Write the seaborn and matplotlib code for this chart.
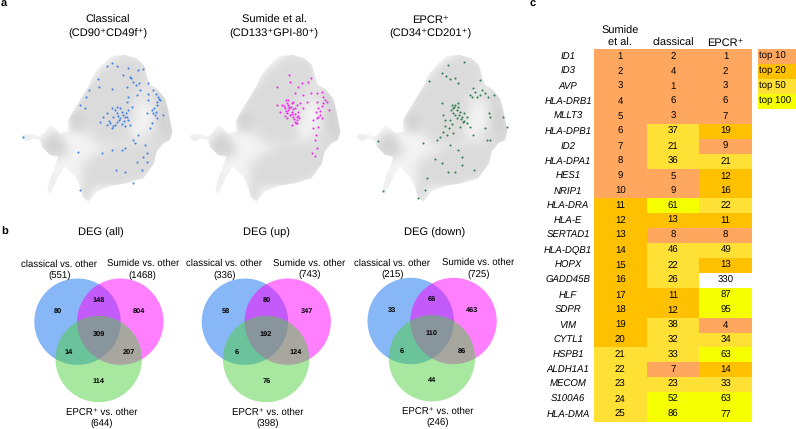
import numpy as np
import pandas as pd
import matplotlib
matplotlib.use('Agg')
import matplotlib.pyplot as plt
from matplotlib.colors import ListedColormap, LinearSegmentedColormap
from matplotlib.patches import Circle, Polygon
import seaborn as sns

# gene ranking table
genes = ['ID1', 'ID3', 'AVP', 'HLA-DRB1', 'MLLT3', 'HLA-DPB1', 'ID2', 'HLA-DPA1', 'HES1', 'NRIP1',
         'HLA-DRA', 'HLA-E', 'SERTAD1', 'HLA-DQB1', 'HOPX', 'GADD45B', 'HLF', 'SDPR', 'VIM', 'CYTL1',
         'HSPB1', 'ALDH1A1', 'MECOM', 'S100A6', 'HLA-DMA']
rank_sumide = [1, 2, 3, 4, 5, 6, 7, 8, 9, 10, 11, 12, 13, 14, 15, 16, 17, 18, 19, 20, 21, 22, 23, 24, 25]
rank_classical = [2, 4, 1, 6, 3, 37, 21, 36, 5, 9, 61, 13, 8, 46, 22, 26, 11, 12, 38, 32, 33, 7, 23, 52, 86]
rank_epcr = [1, 2, 3, 6, 7, 19, 9, 21, 12, 16, 22, 11, 8, 49, 13, 330, 87, 95, 4, 34, 63, 14, 33, 63, 77]
table_cols = ['Sumide\net al.', 'classical', 'EPCR\u207a']
top_labels = ['top 10', 'top 20', 'top 50', 'top 100']
top_limits = [11, 21, 51, 101]
top_colors = ['#FFA75F', '#FFC000', '#FFE135', '#F5FF00', '#FFFFFF']

# venn counts: blue, blue+pink, pink, all, blue+green, pink+green, green
venn_titles = ['DEG (all)', 'DEG (up)', 'DEG (down)']
venn_all = [80, 148, 804, 309, 14, 207, 114]
venn_up = [58, 80, 347, 192, 6, 124, 76]
venn_down = [33, 66, 463, 110, 6, 86, 44]
totals_classical = [551, 336, 215]
totals_sumide = [1468, 743, 725]
totals_epcr = [644, 398, 246]

# umap panels
umap_titles = [('Classical', '(CD90\u207aCD49f\u207a)'),
               ('Sumide et al.', '(CD133\u207aGPI-80\u207a)'),
               ('EPCR\u207a', '(CD34\u207aCD201\u207a)')]

# grey cloud, density by eye per cell of the umap (cols 50..530, rows 160..620)
cloud = ['000000000000001333100000',
         '000000000000024444420000',
         '000000000000344444430000',
         '000000000002444444431000',
         '000000000014444444432100',
         '000000000144444444333420',
         '000000000344444443334530',
         '000000001444444443223541',
         '000000013444444443113552',
         '000000035544444442113553',
         '000000025544444442113554',
         '000012114434444431123554',
         '231135311123444442234454',
         '011255521112333333334442',
         '000255531111234444444310',
         '000034321123444444444310',
         '000001111234444444444200',
         '000001111244444444443100',
         '000012101244444444431000',
         '000012000244444432100000',
         '000021000342100000000000',
         '000010000241000000000000',
         '000000000121000000000000']
# edge of the cloud, same frame
outline_x = [335, 375, 410, 432, 440, 450, 470, 495, 505, 517, 510, 490, 470, 462, 430, 380, 330, 290, 265, 248,
             240, 225, 195, 175, 150, 142, 152, 165, 175, 150, 125, 120, 100, 80, 65, 72, 95, 120, 135, 150,
             165, 180, 205, 205, 225, 240, 265, 280, 305]
outline_y = [168, 165, 175, 195, 225, 255, 265, 295, 330, 395, 420, 430, 455, 490, 535, 550, 558, 575, 605, 590,
             560, 530, 500, 530, 583, 570, 530, 500, 470, 465, 440, 420, 415, 425, 412, 402, 403, 410, 395, 375,
             385, 400, 395, 360, 325, 300, 260, 225, 195]

classical_x = [68, 335, 352, 322, 415, 430, 385, 370, 392, 398, 408, 295, 268, 297, 335, 380, 418, 445, 420, 412,
               385, 380, 460, 475, 480, 445, 470, 455, 465, 490, 440, 258, 240, 255, 335, 350, 360, 350, 365, 385,
               395, 360, 375, 385, 350, 330, 320, 335, 300, 310, 320, 375, 390, 455, 450, 470, 415, 400, 405, 435,
               440, 430, 440, 375, 365, 335, 235, 412, 425, 348, 375, 400, 240, 305,
               345, 355, 368, 378, 340, 358, 372, 382, 345, 365, 328, 338, 468, 478, 472, 462, 458, 468, 445, 390]
classical_y = [410, 190, 198, 198, 210, 208, 205, 225, 235, 245, 255, 238, 270, 262, 268, 262, 250, 248, 270, 285,
               290, 305, 270, 290, 300, 300, 315, 330, 345, 345, 340, 292, 315, 325, 325, 320, 325, 340, 335, 330,
               320, 355, 350, 360, 365, 370, 375, 385, 365, 350, 340, 378, 375, 370, 385, 355, 405, 420, 430, 435,
               460, 470, 485, 445, 450, 450, 455, 487, 510, 510, 515, 550, 570, 460,
               330, 348, 345, 340, 352, 360, 362, 350, 375, 372, 362, 378, 282, 298, 305, 325, 338, 335, 282, 230]
sumide_x = [364, 366, 391, 401, 421, 429, 326, 381, 406, 428, 446, 461, 466, 476, 416, 446, 466, 484, 326, 341,
            354, 361, 371, 386, 406, 351, 361, 371, 381, 391, 356, 366, 356, 376, 386, 394, 381, 371, 388, 444,
            456, 461, 448, 434, 436, 451, 444, 441, 448, 431, 441, 336, 451, 396, 376, 361, 354, 364, 381, 386,
            358, 368, 374, 348, 390, 378, 352, 372, 362, 384, 456, 450, 470, 462]
sumide_y = [225, 245, 260, 250, 245, 235, 260, 280, 285, 280, 280, 275, 290, 305, 305, 305, 310, 330, 315, 315,
            300, 300, 310, 315, 325, 325, 330, 335, 325, 335, 340, 345, 355, 350, 352, 355, 365, 375, 370, 335,
            345, 355, 355, 360, 385, 382, 405, 420, 445, 460, 468, 335, 325, 310, 305, 315, 332, 323, 342, 360,
            308, 320, 328, 318, 348, 358, 348, 342, 322, 368, 332, 350, 300, 318]
epcr_x = [340, 387, 320, 332, 345, 360, 283, 435, 370, 415, 420, 405, 435, 450, 477, 322, 350, 360, 370, 355,
          365, 375, 325, 353, 380, 395, 365, 383, 395, 345, 330, 375, 463, 465, 505, 517, 450, 325, 335, 353,
          415, 455, 465, 345, 265, 305, 130, 370, 380, 300, 320, 340, 360, 380, 417, 275, 270, 145, 250, 315,
          405, 425,
          358, 368, 348, 378, 388, 360, 372, 386, 352, 342, 330, 412, 440, 460]
epcr_y = [195, 185, 218, 228, 237, 235, 243, 240, 250, 265, 275, 285, 285, 280, 285, 310, 315, 315, 310, 325,
          330, 335, 345, 340, 350, 350, 355, 365, 370, 360, 378, 380, 340, 350, 350, 380, 385, 395, 405, 400,
          405, 420, 420, 435, 430, 420, 423, 450, 470, 478, 490, 515, 515, 495, 510, 535, 570, 573, 595, 412,
          380, 290,
          322, 322, 330, 358, 362, 345, 345, 340, 372, 385, 360, 290, 270, 292]

sns.set_theme(style='white')
plt.rcParams['font.family'] = ['Liberation Sans', 'DejaVu Sans']
plt.rcParams['text.hinting'] = 'none'

W, H = 796, 429
fig = plt.figure(figsize=(W / 100, H / 100), dpi=100)


def add_axes_px(x0, y0, x1, y1):
    """axes from pixel box, y measured from the top"""
    return fig.add_axes([x0 / W, 1 - y1 / H, (x1 - x0) / W, (y1 - y0) / H])


# page axes in pixels, for circles and free text
page = fig.add_axes([0, 0, 1, 1])
page.set_xlim(0, W)
page.set_ylim(H, 0)
page.axis('off')

for letter, lx, ly in [('a', 1, 4), ('b', 1, 232), ('c', 530, 4)]:
    page.text(lx, ly, letter, fontsize=8, fontweight='bold', va='center', color='black')


def draw_umap(off, dots_x, dots_y, color, title, title_x):
    ax = add_axes_px(50 / 3 + off, 160 / 3, 530 / 3 + off, 620 / 3)
    grey = LinearSegmentedColormap.from_list('cloud', ['#FFFFFF', '#D0D0D0'])
    grid = np.array([[int(c) for c in row] for row in cloud])
    im = ax.imshow(grid + 0.5, cmap=grey, vmin=0, vmax=6, extent=(50, 530, 620, 160),
                   interpolation='bicubic', aspect='auto')
    im.set_clip_path(Polygon(np.column_stack([outline_x, outline_y]), closed=True, transform=ax.transData))
    sns.scatterplot(x=dots_x, y=dots_y, s=2.2, color=color, linewidth=0, ax=ax)
    ax.set_xlim(50, 530)
    ax.set_ylim(620, 160)
    ax.axis('off')
    page.text(title_x, 20, title[0], fontsize=8, ha='center', va='center', color='black')
    page.text(title_x, 34, title[1], fontsize=8, ha='center', va='center', color='black')


draw_umap(0, classical_x, classical_y, '#3C7FE6', umap_titles[0], 108)
draw_umap(168, sumide_x, sumide_y, '#F028F0', umap_titles[1], 274)
draw_umap(335, epcr_x, epcr_y, '#2E7F50', umap_titles[2], 430.5)


def draw_venn(dx, dy, counts, title, title_x, n_cl, n_su, n_ep, cl_x, su_x, ep_x, lab_y):
    r = 43.2
    for cx, cy, col in [(77.5, 321.7, '#1170F0'), (120.3, 321.7, '#FF00FF'), (98.7, 359, '#50D040')]:
        page.add_patch(Circle((cx + dx, cy + dy), r, facecolor=col, edgecolor='none', alpha=0.5))
    spots = [(58.3, 311), (99, 300), (139.3, 311), (98.7, 334.3), (69, 351.7), (128.7, 351.7), (99, 381)]
    for (sx, sy), c in zip(spots, counts):
        page.text(sx + dx, sy + dy, str(c), fontsize=5.3, fontweight='bold', ha='center', va='center', color='black')
    page.text(title_x, 233, title, fontsize=8, ha='center', va='center', color='black')
    page.text(cl_x, 264 + lab_y, 'classical vs. other', fontsize=6.9, ha='center', va='center', color='black')
    page.text(cl_x, 275.5 + lab_y, '(%d)' % n_cl, fontsize=6.9, ha='center', va='center', color='black')
    page.text(su_x, 263.5 + lab_y, 'Sumide vs. other', fontsize=6.9, ha='center', va='center', color='black')
    page.text(su_x, 275 + lab_y, '(%d)' % n_su, fontsize=6.9, ha='center', va='center', color='black')
    page.text(ep_x, 412.5 + lab_y, 'EPCR\u207a vs. other', fontsize=6.9, ha='center', va='center', color='black')
    page.text(ep_x, 423.5 + lab_y, '(%d)' % n_ep, fontsize=6.9, ha='center', va='center', color='black')


draw_venn(0, 0, venn_all, venn_titles[0], 101, totals_classical[0], totals_sumide[0], totals_epcr[0], 59.3, 142.7, 102, 0)
draw_venn(167.4, 0, venn_up, venn_titles[1], 266, totals_classical[1], totals_sumide[1], totals_epcr[1], 224.4, 309.5, 268, -0.5)
draw_venn(333.2, -0.7, venn_down, venn_titles[2], 434.3, totals_classical[2], totals_sumide[2], totals_epcr[2], 392.3, 478.3, 437.7, -1)

# rank table
ranks = pd.DataFrame({table_cols[0]: rank_sumide, table_cols[1]: rank_classical, table_cols[2]: rank_epcr},
                     index=genes)
levels = ranks.apply(lambda col: np.digitize(col, top_limits))
tab = add_axes_px(594, 49.3, 752, 422)
sns.heatmap(levels, annot=ranks, fmt='d', cmap=ListedColormap(top_colors), vmin=0, vmax=4, cbar=False, ax=tab,
            yticklabels=True, annot_kws={'fontsize': 6.9, 'color': 'black'})
tab.xaxis.tick_top()
tab.tick_params(axis='both', length=0)
tab.tick_params(axis='x', pad=1, labelsize=7.9, labelcolor='black')
tab.tick_params(axis='y', pad=18.7, labelsize=6.9, labelcolor='black')
tab.set_xlabel('')
tab.set_ylabel('')
plt.setp(tab.get_xticklabels(), rotation=0, ha='center', va='bottom')
plt.setp(tab.get_yticklabels(), rotation=0, ha='center', style='italic')

# colour key
key = add_axes_px(757.5, 49.3, 796, 109)
key_df = pd.DataFrame({'key': [0, 1, 2, 3]}, index=top_labels)
sns.heatmap(key_df, cmap=ListedColormap(top_colors[:4]), vmin=0, vmax=3, cbar=False, ax=key,
            xticklabels=False, yticklabels=False)
for i, lab in enumerate(top_labels):
    key.text(0.05, i + 0.5, lab, fontsize=6.9, ha='left', va='center', color='black')

fig.savefig('out.png', dpi=100)
